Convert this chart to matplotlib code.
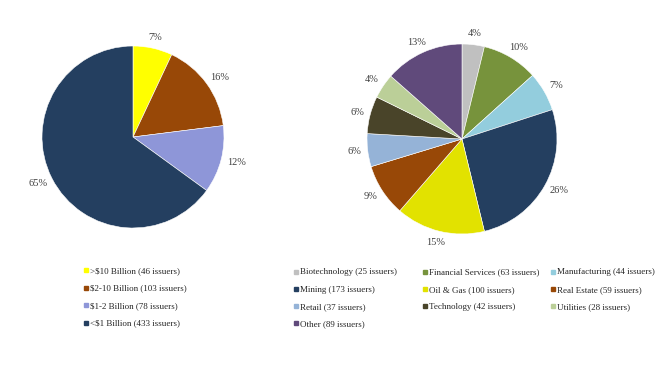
import numpy as np
import matplotlib.pyplot as plt
from matplotlib.lines import Line2D

plt.rcParams['font.family'] = ['Liberation Serif', 'DejaVu Serif']

# market cap split (percent shares as labelled on the chart)
cap_labels = ['>$10 Billion (46 issuers)', '$2-10 Billion (103 issuers)',
              '$1-2 Billion (78 issuers)', '<$1 Billion (433 issuers)']
cap_share = [7, 16, 12, 65]
cap_colors = ['#FFFF00', '#984807', '#8E96D8', '#243F60']

# sector split
sector_labels = ['Biotechnology (25 issuers)', 'Financial Services (63 issuers)',
                 'Manufacturing (44 issuers)', 'Mining (173 issuers)',
                 'Oil & Gas (100 issuers)', 'Real Estate (59 issuers)',
                 'Retail (37 issuers)', 'Technology (42 issuers)',
                 'Utilities (28 issuers)', 'Other (89 issuers)']
sector_counts = [25, 63, 44, 173, 100, 59, 37, 42, 28, 89]
sector_colors = ['#C0C0C0', '#77933C', '#93CDDD', '#243F60', '#E2E200',
                 '#984807', '#95B3D7', '#494429', '#BBCF98', '#604A7B']

W, H = 672, 389
fig = plt.figure(figsize=(6.72, 3.89), dpi=100)
fig.patch.set_facecolor('white')
renderer = fig.canvas.get_renderer()

def px_axes(cx, cy, r):
    return fig.add_axes([(cx - r) / W, (H - cy - r) / H, 2 * r / W, 2 * r / H])

def draw_pie(ax, vals, colors, r_px, gap=0.07):
    wedges, _, pcts = ax.pie(vals, colors=colors, startangle=90, counterclock=False,
                             autopct='%.0f%%', radius=1,
                             wedgeprops=dict(edgecolor='white', linewidth=0.4),
                             textprops=dict(fontsize=7.5, color='#404040'))
    ax.set_xlim(-1, 1)
    ax.set_ylim(-1, 1)
    ax.set_aspect('equal')
    ax.axis('off')
    # push each label just outside the rim, box edge facing the pie
    for w, t in zip(wedges, pcts):
        a = np.deg2rad((w.theta1 + w.theta2) / 2)
        ux, uy = np.cos(a), np.sin(a)
        bb = t.get_window_extent(renderer)
        hw, hh = bb.width / 2 / r_px, bb.height / 2 / r_px
        t.set_position((ux * (1 + gap) + ux * hw, uy * (1 + gap) + uy * hh))
        t.set_ha('center')
        t.set_va('center')

draw_pie(px_axes(133, 137, 91), cap_share, cap_colors, 91)
draw_pie(px_axes(462, 139, 95), sector_counts, sector_colors, 95)

def legend_item(x, y, label, color):
    fig.add_artist(Line2D([x / W], [1 - y / H], transform=fig.transFigure,
                          marker='s', markersize=3.3, linestyle='none',
                          markerfacecolor=color, markeredgecolor=color))
    fig.text((x + 4) / W, 1 - y / H, label, fontsize=6.5, color='#262626',
             ha='left', va='center_baseline')

left_rows = [270, 287.5, 305, 322.5]
for i in range(len(cap_labels)):
    legend_item(86, left_rows[i], cap_labels[i], cap_colors[i])

col_x = [296, 425, 553]
right_rows = [271.5, 289, 306, 323]
for k in range(len(sector_labels)):
    legend_item(col_x[k % 3], right_rows[k // 3], sector_labels[k], sector_colors[k])

fig.savefig('out.png', dpi=100)
